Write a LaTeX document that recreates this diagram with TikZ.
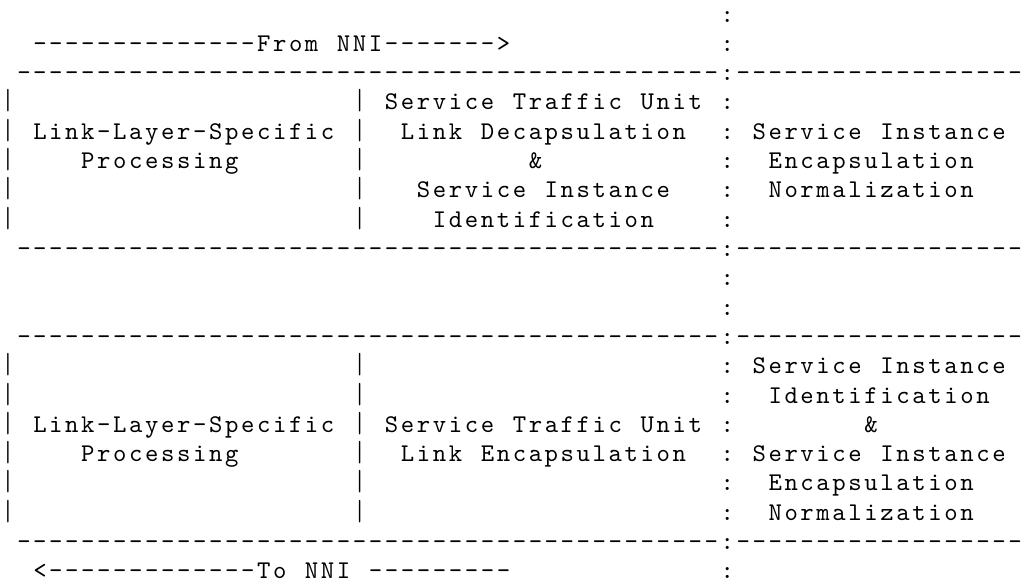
\documentclass[tikz,border=0pt]{standalone}
\usepackage{fontspec}
\usepackage{graphicx}
\newfontfamily\courlike{lmmono10-regular.otf}
\newlength\cellw
\setlength\cellw{15.984pt}
\ExplSyntaxOn
\NewDocumentCommand \monostr { m }
  {
    \str_map_inline:nn {#1}
      {
        \str_if_eq:nnTF {##1} {|}
          { \makebox[\cellw]{\scalebox{0.8}[1.14]{|}} }
          { \makebox[\cellw]{##1} }
      }
  }
\ExplSyntaxOff
\tikzset{mono/.style={font=\courlike\fontsize{25.5}{29}\selectfont, inner sep=0pt, outer sep=0pt, anchor=base west, text=black}}
\newcommand\ascii[4]{\node[mono] (#1) at ({15.984*#2},{-22.1-29.3*#3}) {\monostr{#4}};}
\begin{document}
\begin{tikzpicture}[x=1pt,y=1pt]
\useasboundingbox[fill=white] (0,0) rectangle (1023,-586);
% row 0-1
\ascii{c0}{45}{0}{:}
\ascii{fromnni}{2}{1}{--------------From NNI------->}
\ascii{c1}{45}{1}{:}
% row 2
\ascii{rule1}{1}{2}{--------------------------------------------:------------------}
% upper box
\ascii{ba3}{0}{3}{|}
\ascii{bb3}{22}{3}{|}
\ascii{stu1}{24}{3}{Service Traffic Unit}
\ascii{c3}{45}{3}{:}
\ascii{ba4}{0}{4}{|}
\ascii{lls1}{2}{4}{Link-Layer-Specific}
\ascii{bb4}{22}{4}{|}
\ascii{ldec}{25}{4}{Link Decapsulation}
\ascii{c4}{45}{4}{:}
\ascii{si1}{47}{4}{Service Instance}
\ascii{ba5}{0}{5}{|}
\ascii{proc1}{5}{5}{Processing}
\ascii{bb5}{22}{5}{|}
\ascii{amp1}{33}{5}{&}
\ascii{c5}{45}{5}{:}
\ascii{enc1}{48}{5}{Encapsulation}
\ascii{ba6}{0}{6}{|}
\ascii{bb6}{22}{6}{|}
\ascii{si2}{26}{6}{Service Instance}
\ascii{c6}{45}{6}{:}
\ascii{norm1}{48}{6}{Normalization}
\ascii{ba7}{0}{7}{|}
\ascii{bb7}{22}{7}{|}
\ascii{id1}{27}{7}{Identification}
\ascii{c7}{45}{7}{:}
\ascii{rule2}{1}{8}{--------------------------------------------:------------------}
% gap
\ascii{c9}{45}{9}{:}
\ascii{c10}{45}{10}{:}
\ascii{rule3}{1}{11}{--------------------------------------------:------------------}
% lower box
\ascii{ba12}{0}{12}{|}
\ascii{bb12}{22}{12}{|}
\ascii{c12}{45}{12}{:}
\ascii{si3}{47}{12}{Service Instance}
\ascii{ba13}{0}{13}{|}
\ascii{bb13}{22}{13}{|}
\ascii{c13}{45}{13}{:}
\ascii{id2}{48}{13}{Identification}
\ascii{ba14}{0}{14}{|}
\ascii{lls2}{2}{14}{Link-Layer-Specific}
\ascii{bb14}{22}{14}{|}
\ascii{stu2}{24}{14}{Service Traffic Unit}
\ascii{c14}{45}{14}{:}
\ascii{amp2}{54}{14}{&}
\ascii{ba15}{0}{15}{|}
\ascii{proc2}{5}{15}{Processing}
\ascii{bb15}{22}{15}{|}
\ascii{lenc}{25}{15}{Link Encapsulation}
\ascii{c15}{45}{15}{:}
\ascii{si4}{47}{15}{Service Instance}
\ascii{ba16}{0}{16}{|}
\ascii{bb16}{22}{16}{|}
\ascii{c16}{45}{16}{:}
\ascii{enc2}{48}{16}{Encapsulation}
\ascii{ba17}{0}{17}{|}
\ascii{bb17}{22}{17}{|}
\ascii{c17}{45}{17}{:}
\ascii{norm2}{48}{17}{Normalization}
\ascii{rule4}{1}{18}{--------------------------------------------:------------------}
\ascii{tonni}{2}{19}{<-------------To NNI ---------}
\ascii{c19}{45}{19}{:}
\end{tikzpicture}
\end{document}
